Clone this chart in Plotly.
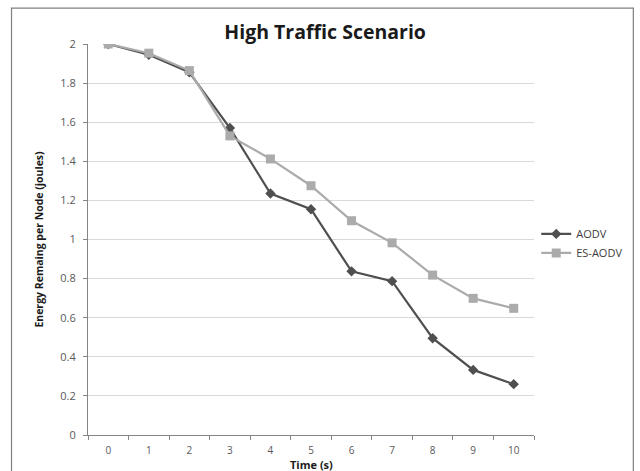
import plotly.graph_objects as go

# Simulation time (s) and mean remaining energy per node (joules)
time_s = [0, 1, 2, 3, 4, 5, 6, 7, 8, 9, 10]
aodv = [2.0, 1.945, 1.855, 1.57, 1.235, 1.155, 0.837, 0.787, 0.495, 0.333, 0.26]
es_aodv = [2.0, 1.953, 1.864, 1.53, 1.412, 1.275, 1.096, 0.983, 0.818, 0.699, 0.648]
y_ticks = [0, 0.2, 0.4, 0.6, 0.8, 1.0, 1.2, 1.4, 1.6, 1.8, 2.0]

FONT = "Open Sans, Liberation Sans, sans-serif"

fig = go.Figure()
fig.add_trace(go.Scatter(
    x=time_s, y=aodv, name="AODV", mode="lines+markers",
    line=dict(color="#4f4f4f", width=2.2),
    marker=dict(symbol="diamond", size=8, color="#4f4f4f"),
))
fig.add_trace(go.Scatter(
    x=time_s, y=es_aodv, name="ES-AODV", mode="lines+markers",
    line=dict(color="#ababab", width=2.2),
    marker=dict(symbol="square", size=9, color="#ababab"),
))

fig.update_layout(
    width=640, height=471,
    margin=dict(l=88, r=103, t=44, b=36),
    paper_bgcolor="white", plot_bgcolor="white",
    font=dict(family=FONT, color="#595959", size=11),
    title=dict(
        text="<b>High Traffic Scenario</b>",
        x=0.508, xanchor="center", y=0.932, yanchor="middle",
        font=dict(family=FONT, size=19.5, color="#1a1a1a"),
    ),
    showlegend=True,
    legend=dict(
        x=1.005, xanchor="left", y=0.49, yanchor="middle",
        font=dict(family=FONT, size=11, color="#404040"),
        bgcolor="rgba(0,0,0,0)", tracegroupgap=2, itemwidth=30,
    ),
    xaxis=dict(
        automargin=False,
        range=[-0.5, 10.5], tickvals=time_s, ticks="",
        ticklabelstandoff=6,
        minor=dict(tick0=-0.5, dtick=1, ticks="outside", ticklen=4,
                   tickcolor="#868686", showgrid=False),
        showline=True, linecolor="#868686", linewidth=1,
        showgrid=False, zeroline=False,
        tickfont=dict(size=10, color="#595959"),
    ),
    yaxis=dict(
        automargin=False,
        range=[0, 2.0], tickvals=y_ticks,
        ticks="outside", ticklen=4, tickcolor="#868686",
        ticklabelstandoff=5,
        showline=True, linecolor="#868686", linewidth=1,
        showgrid=True, gridcolor="#d9d9d9", gridwidth=1,
        zeroline=False,
        tickfont=dict(size=11, color="#595959"),
        title=dict(text="<b>Energy Remaing per Node (joules)</b>", standoff=14,
                   font=dict(family=FONT, size=10.5, color="#1a1a1a")),
    ),
)

# x-axis title, placed just under the tick labels
fig.add_annotation(
    text="<b>Time (s)</b>", xref="paper", yref="paper",
    x=0.5, y=-0.0745, xanchor="center", yanchor="middle",
    showarrow=False, font=dict(family=FONT, size=11, color="#1a1a1a"),
)

# Outer chart frame
fig.add_shape(
    type="rect", xref="paper", yref="paper",
    x0=-0.1715, x1=1.2227, y0=-0.12, y1=1.092,
    line=dict(color="#7f7f7f", width=1.2), fillcolor="rgba(0,0,0,0)",
    layer="below",
)

fig.write_html("out.html")
